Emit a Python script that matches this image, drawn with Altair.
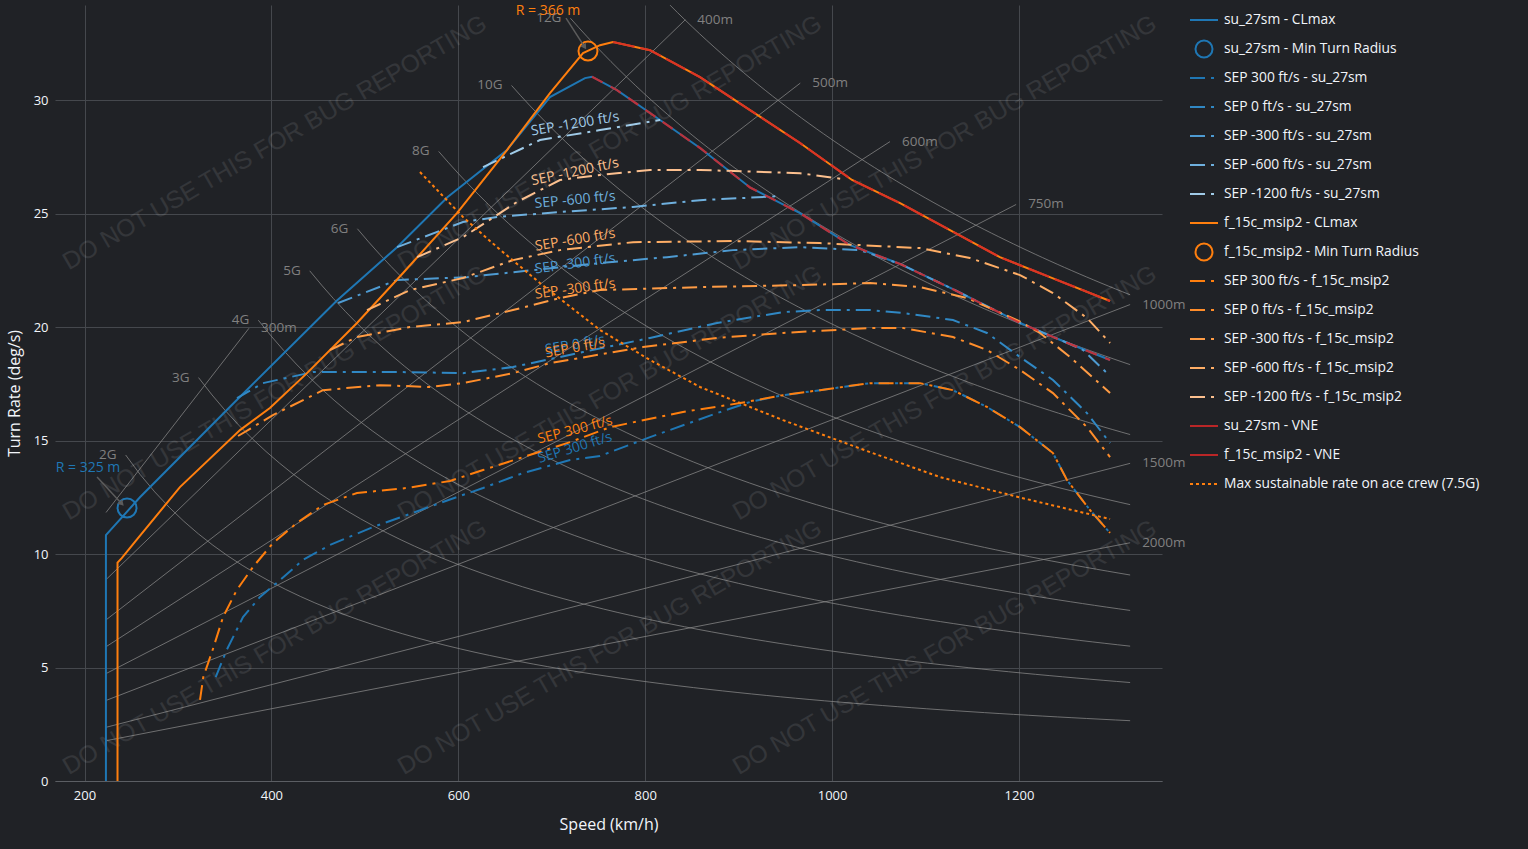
import math
import numpy as np
import pandas as pd
import altair as alt

# ---------------------------------------------------------------- styling
BG = "#202226"
GRID = "#45484d"
TXT = "#f2f5fa"
REF = "#8a8a8a"
REF_TXT = "#808080"
FONT = "Open Sans"

SU_BLUE = "#1f77b4"
FC_ORANGE = "#ff7f0e"
VNE_RED = "#d62728"

# ---------------------------------------------------------------- axes
X_TICKS = [200, 400, 600, 800, 1000, 1200]
Y_TICKS = [0, 5, 10, 15, 20, 25, 30]
X_DOMAIN = [168.4, 1353.1]
Y_DOMAIN = [0, 34.19]

# ---------------------------------------------------------------- reference grid (load factor / radius)
G_LOADS = [2, 3, 4, 5, 6, 8, 10, 12, 14]
G_START_KMH = [244, 322, 386, 441, 492, 579, 657, 720, 780]
GRID_END_KMH = 1319
RADII_M = [300, 400, 500, 600, 750, 1000, 1500, 2000]
R_START_KMH = 223
R_END_KMH = [376, 843, 966, 1062, 1197, 1319, 1319, 1319]

# ---------------------------------------------------------------- su_27sm
SU_CLMAX_V = [222.9, 222.9, 259.3, 363.2, 470.2, 534.5, 588.3, 652.1, 698.1, 735.6, 743.1]
SU_CLMAX_R = [0.0, 10.83, 12.50, 16.80, 21.17, 23.52, 25.72, 27.80, 30.13, 30.97, 31.03]
SU_VNE_V = [743.1, 769.8, 805.2, 858.7, 912.2, 965.7, 1019.3, 1072.8, 1129.4, 1201.2, 1249.5, 1297.5]
SU_VNE_R = [31.03, 30.44, 29.43, 27.89, 26.15, 25.02, 23.61, 22.78, 21.67, 20.18, 19.34, 18.55]
SU_MIN_RADIUS = [245.5, 12.03]

SU_S300_V = [340.4, 352.1, 369.6, 387.8, 409.2, 433.8, 462.7, 508.7, 545.1, 580.4, 626.5, 669.3, 719.6,
             751.7, 805.2, 877.0, 912.2, 947.5, 987.1, 1040.6, 1094.1, 1129.4, 1165.8, 1201.2, 1236.4,
             1251.4, 1276.0, 1297.5]
SU_S300_R = [4.58, 5.77, 7.22, 8.11, 8.85, 9.74, 10.40, 11.19, 11.72, 12.25, 12.91, 13.57, 14.14,
             14.32, 15.15, 16.21, 16.70, 17.00, 17.22, 17.53, 17.53, 17.22, 16.48, 15.59, 14.45,
             13.26, 11.94, 10.93]
SU_S0_V = [363.2, 391.0, 444.6, 534.5, 605.0, 658.5, 708.8, 733.5, 805.2, 877.0, 947.5, 987.1, 1040.6,
           1076.0, 1129.4, 1165.8, 1201.2, 1236.4, 1272.8, 1297.5]
SU_S0_R = [16.87, 17.53, 18.02, 18.02, 17.97, 18.24, 18.68, 18.90, 19.52, 20.18, 20.66, 20.75, 20.75,
           20.62, 20.31, 19.74, 18.68, 17.67, 16.21, 14.89]
SU_SM300_V = [471.4, 534.5, 609.4, 680.0, 751.7, 823.4, 893.9, 965.7, 1029.9, 1072.8, 1129.4, 1201.2,
              1249.5, 1268.6, 1294.3]
SU_SM300_R = [21.06, 22.07, 22.20, 22.51, 22.82, 23.08, 23.39, 23.52, 23.39, 22.78, 21.67, 20.18,
              19.34, 18.99, 17.97]
SU_SM600_V = [534.5, 605.0, 641.5, 708.8, 787.0, 858.7, 944.3]
SU_SM600_R = [23.52, 24.63, 24.85, 25.07, 25.29, 25.59, 25.77]
SU_SM1200_V = [626.5, 687.4, 751.7, 816.0]
SU_SM1200_R = [27.05, 28.24, 28.68, 29.12]

# ---------------------------------------------------------------- f_15c_msip2
FC_CLMAX_V = [235.3, 235.3, 239.8, 255.7, 302.1, 366.4, 398.4, 438.1, 491.6, 540.9, 598.6, 652.1,
              698.1, 733.5, 751.7, 765.6]
FC_CLMAX_R = [0.0, 9.62, 9.82, 10.62, 12.95, 15.46, 16.43, 17.97, 20.18, 22.38, 25.02, 27.80,
              30.31, 32.07, 32.42, 32.56]
FC_VNE_V = [765.6, 805.2, 858.7, 912.2, 965.7, 1021.4, 1072.8, 1126.2, 1179.6, 1233.1, 1297.5]
FC_VNE_R = [32.56, 32.20, 31.01, 29.56, 28.11, 26.48, 25.46, 24.27, 23.08, 22.20, 21.15]
FC_MIN_RADIUS = [738.8, 32.16]

FC_S300_V = [323.6, 327.1, 337.8, 348.2, 362.9, 380.3, 401.6, 427.4, 455.2, 491.6, 545.1, 591.1,
             626.5, 669.3, 719.6, 762.4, 840.4, 901.5, 947.5, 987.1, 1040.6, 1094.1, 1129.4, 1165.8,
             1201.2, 1236.4, 1251.4, 1276.0, 1297.5]
FC_S300_R = [3.57, 4.58, 5.86, 7.22, 8.41, 9.43, 10.48, 11.37, 12.16, 12.69, 12.91, 13.22,
             13.70, 14.27, 14.93, 15.59, 16.26, 16.65, 17.00, 17.22, 17.53, 17.53, 17.22, 16.48,
             15.59, 14.45, 13.26, 11.94, 10.93]
FC_S0_V = [364.3, 401.6, 455.2, 516.2, 569.8, 605.0, 658.5, 698.1, 797.7, 877.0, 947.5, 1040.6,
           1076.0, 1129.4, 1165.8, 1201.2, 1236.4, 1272.8, 1297.5]
FC_S0_R = [15.20, 16.12, 17.22, 17.44, 17.36, 17.53, 17.97, 18.41, 19.12, 19.52, 19.74, 19.96,
           19.96, 19.56, 18.99, 18.11, 17.09, 15.59, 14.27]
FC_SM300_V = [462.7, 491.6, 548.3, 605.0, 658.5, 708.8, 751.7, 858.7, 965.7, 1040.6, 1094.1, 1144.4,
              1198.0, 1222.5, 1254.7, 1297.5]
FC_SM300_R = [18.99, 19.56, 20.00, 20.22, 20.75, 21.28, 21.63, 21.76, 21.85, 21.94, 21.76, 21.28,
              20.31, 19.74, 18.68, 17.09]
FC_SM600_V = [502.3, 548.3, 605.0, 658.5, 708.8, 787.0, 893.9, 987.1, 1094.1, 1147.6, 1201.2, 1236.4,
              1272.8, 1297.5]
FC_SM600_R = [20.75, 21.63, 22.16, 22.95, 23.39, 23.74, 23.79, 23.70, 23.48, 23.04, 22.29, 21.50,
              20.40, 19.30]
FC_SM1200_V = [555.9, 605.0, 662.8, 708.8, 751.7, 805.2, 858.7, 965.7, 1011.7]
FC_SM1200_R = [23.08, 23.96, 25.51, 26.48, 26.70, 26.92, 26.92, 26.78, 26.52]

# ---------------------------------------------------------------- max sustainable 7.5G
MAX75_V = [559.0, 605.0, 641.5, 687.4, 751.7, 805.2, 858.7, 947.5, 1040.6, 1115.7, 1199.1, 1297.5]
MAX75_R = [26.83, 24.85, 23.52, 21.94, 19.87, 18.55, 17.36, 15.90, 14.49, 13.39, 12.51, 11.54]

# ---------------------------------------------------------------- SEP colours / labels
SEP_LEVELS = ["300", "0", "-300", "-600", "-1200"]
SU_SEP_COLORS = ["#1f77b4", "#3088c4", "#4e9bd2", "#6fb0de", "#a0cbe8"]
FC_SEP_COLORS = ["#ff7f0e", "#ff8d2a", "#ff9c45", "#ffae66", "#fcc08f"]

SU_LABEL_V = [725, 725, 725, 725, 725]
SU_LABEL_R = [14.67, 19.21, 22.78, 25.59, 28.94]
SU_LABEL_ANGLE = [343, 350, 352, 354.5, 350.5]
FC_LABEL_V = [725, 725, 725, 725, 725]
FC_LABEL_R = [15.46, 19.07, 21.67, 23.83, 26.83]
FC_LABEL_ANGLE = [345.5, 350, 352, 350.5, 348]

# min-radius annotations
ANN_TEXT = ["R = 325 m", "R = 366 m"]
ANN_V = [203.7, 696.0]
ANN_R = [13.79, 33.92]
ANN_COLOR = [SU_BLUE, FC_ORANGE]
ARROW_V0 = [213.4, 715.3]
ARROW_R0 = [13.39, 33.61]
ARROW_V1 = [239.1, 734.6]
ARROW_R1 = [12.25, 32.38]
ARROW_ANGLE = [137, 147]

# watermark
WM_TEXT = "DO NOT USE THIS FOR BUG REPORTING"
WM_V = [403.9, 762.4, 1120.9]
WM_R = [28.1, 17.07, 5.86]

# legend
LEGEND_ITEMS = [
    "su_27sm - CLmax", "su_27sm - Min Turn Radius",
    "SEP 300 ft/s - su_27sm", "SEP 0 ft/s - su_27sm", "SEP -300 ft/s - su_27sm",
    "SEP -600 ft/s - su_27sm", "SEP -1200 ft/s - su_27sm",
    "f_15c_msip2 - CLmax", "f_15c_msip2 - Min Turn Radius",
    "SEP 300 ft/s - f_15c_msip2", "SEP 0 ft/s - f_15c_msip2", "SEP -300 ft/s - f_15c_msip2",
    "SEP -600 ft/s - f_15c_msip2", "SEP -1200 ft/s - f_15c_msip2",
    "su_27sm - VNE", "f_15c_msip2 - VNE", "Max sustainable rate on ace crew (7.5G)",
]
LEGEND_KIND = (["solid", "circle"] + ["dashdot"] * 5 + ["solid", "circle"] + ["dashdot"] * 5
               + ["vne", "vne", "dot"])
LEGEND_COLORS = ([SU_BLUE, SU_BLUE] + SU_SEP_COLORS + [FC_ORANGE, FC_ORANGE] + FC_SEP_COLORS
                 + [VNE_RED, VNE_RED, FC_ORANGE])

DASHDOT = [15, 6, 3, 6]
DOT = [3, 3]

# ---------------------------------------------------------------- scales / encodings
XS = alt.Scale(domain=X_DOMAIN, nice=False, zero=False)
YS = alt.Scale(domain=Y_DOMAIN, nice=False, zero=False)
X_AXIS = alt.Axis(values=X_TICKS, title="Speed (km/h)", grid=True, gridColor=GRID, gridWidth=1,
                  ticks=False, domain=True, domainColor="#5b5e63", labelColor=TXT, labelFont=FONT,
                  labelFontSize=13, labelPadding=8, titleColor=TXT, titleFont=FONT,
                  titleFontSize=16, titleFontWeight="normal", titleY=43, titleBaseline="middle",
                  format="d")
Y_AXIS = alt.Axis(values=Y_TICKS, title="Turn Rate (deg/s)", grid=True, gridColor=GRID, gridWidth=1,
                  ticks=False, domain=False, labelColor=TXT, labelFont=FONT, labelFontSize=13,
                  labelPadding=7, titleColor=TXT, titleFont=FONT, titleFontSize=16,
                  titleFontWeight="normal", titleX=-41, titleY=388, titleAngle=270,
                  titleBaseline="middle", titleAlign="center", format="d")
X = alt.X("V:Q", scale=XS, axis=X_AXIS)
Y = alt.Y("R:Q", scale=YS, axis=Y_AXIS)


def sdf(v, r):
    return pd.DataFrame({"V": v, "R": r, "i": list(range(len(v)))})


def line(v, r, color, width=2.0, dash=None, opacity=1.0, clip=False):
    kw = dict(color=color, strokeWidth=width, opacity=opacity, clip=clip)
    if dash:
        kw["strokeDash"] = dash
    return alt.Chart(sdf(v, r)).mark_line(**kw).encode(x=X, y=Y, order="i:Q")


def circle(pt, color):
    return alt.Chart(sdf([pt[0]], [pt[1]])).mark_point(
        shape="circle", filled=False, size=361, strokeWidth=2, color=color, opacity=1
    ).encode(x=X, y=Y)


# ---------------------------------------------------------------- reference grid lines
g_rows, g_lab = [], []
for n, vs in zip(G_LOADS, G_START_KMH):
    k = 9.81 * math.sqrt(n * n - 1)
    for v in np.linspace(vs, GRID_END_KMH, 70):
        g_rows.append({"g": f"{n}G", "V": float(v), "R": math.degrees(k / (v / 3.6))})
    g_lab.append({"t": f"{n}G", "V": vs, "R": math.degrees(k / (vs / 3.6))})
r_rows, r_lab = [], []
for rad, ve in zip(RADII_M, R_END_KMH):
    for v in (R_START_KMH, ve):
        r_rows.append({"g": f"{rad}m", "V": v, "R": math.degrees(v / 3.6 / rad)})
    r_lab.append({"t": f"{rad}m", "V": ve, "R": math.degrees(ve / 3.6 / rad)})

grid_g = alt.Chart(pd.DataFrame(g_rows)).mark_line(
    color=REF, strokeWidth=1, opacity=0.75, clip=True).encode(x=X, y=Y, detail="g:N")
grid_r = alt.Chart(pd.DataFrame(r_rows)).mark_line(
    color=REF, strokeWidth=1, opacity=0.75, clip=True).encode(x=X, y=Y, detail="g:N")
grid_g_lab = alt.Chart(pd.DataFrame(g_lab)).mark_text(
    align="right", baseline="middle", dx=-9, font=FONT, fontSize=13.5, color=REF_TXT, clip=True
).encode(x=X, y=Y, text="t:N")
grid_r_lab = alt.Chart(pd.DataFrame(r_lab)).mark_text(
    align="left", baseline="middle", dx=12, font=FONT, fontSize=13.5, color=REF_TXT
).encode(x=X, y=Y, text="t:N")

# ---------------------------------------------------------------- watermark
wm_rows = [{"V": v, "R": r, "t": WM_TEXT} for r in WM_R for v in WM_V]
watermark = alt.Chart(pd.DataFrame(wm_rows)).mark_text(
    angle=330, font="Liberation Sans", fontSize=24.5, color="#ffffff", opacity=0.09,
    align="center", baseline="middle"
).encode(x=X, y=Y, text="t:N")

# ---------------------------------------------------------------- series
SU_SEPS = [(SU_S300_V, SU_S300_R), (SU_S0_V, SU_S0_R), (SU_SM300_V, SU_SM300_R),
           (SU_SM600_V, SU_SM600_R), (SU_SM1200_V, SU_SM1200_R)]
FC_SEPS = [(FC_S300_V, FC_S300_R), (FC_S0_V, FC_S0_R), (FC_SM300_V, FC_SM300_R),
           (FC_SM600_V, FC_SM600_R), (FC_SM1200_V, FC_SM1200_R)]

layers = [grid_g, grid_r, watermark, grid_g_lab, grid_r_lab]
layers.append(line(SU_CLMAX_V + SU_VNE_V[1:], SU_CLMAX_R + SU_VNE_R[1:], SU_BLUE))
layers.append(circle(SU_MIN_RADIUS, SU_BLUE))
for (v, r), c in zip(SU_SEPS, SU_SEP_COLORS):
    layers.append(line(v, r, c, dash=DASHDOT))
layers.append(line(FC_CLMAX_V + FC_VNE_V[1:], FC_CLMAX_R + FC_VNE_R[1:], FC_ORANGE))
layers.append(circle(FC_MIN_RADIUS, FC_ORANGE))
for (v, r), c in zip(FC_SEPS, FC_SEP_COLORS):
    layers.append(line(v, r, c, dash=DASHDOT))
layers.append(line(SU_VNE_V, SU_VNE_R, VNE_RED, width=2.2, dash=[12, 9], opacity=0.85))
layers.append(line(FC_VNE_V, FC_VNE_R, VNE_RED, width=2.2, dash=[22, 6], opacity=0.85))
layers.append(line(MAX75_V, MAX75_R, FC_ORANGE, dash=DOT))

# SEP labels
lab_rows = []
for i, lv in enumerate(SEP_LEVELS):
    lab_rows.append({"V": SU_LABEL_V[i], "R": SU_LABEL_R[i], "a": SU_LABEL_ANGLE[i],
                     "c": SU_SEP_COLORS[i], "t": f"SEP {lv} ft/s", "k": 0})
    lab_rows.append({"V": FC_LABEL_V[i], "R": FC_LABEL_R[i], "a": FC_LABEL_ANGLE[i],
                     "c": FC_SEP_COLORS[i], "t": f"SEP {lv} ft/s", "k": 1})
layers.append(alt.Chart(pd.DataFrame(lab_rows)).mark_text(
    font=FONT, fontSize=14, align="center", baseline="middle"
).encode(x=X, y=Y, text="t:N", color=alt.Color("c:N", scale=None),
         angle=alt.Angle("a:Q", scale=None), order="k:Q"))

# min-radius annotations with arrows
arrow_rows = []
for j in range(2):
    arrow_rows.append({"V": ARROW_V0[j], "R": ARROW_R0[j], "a": j})
    arrow_rows.append({"V": ARROW_V1[j], "R": ARROW_R1[j], "a": j})
layers.append(alt.Chart(pd.DataFrame(arrow_rows)).mark_line(
    color="#5c5c5c", strokeWidth=1.5).encode(x=X, y=Y, detail="a:N"))
layers.append(alt.Chart(pd.DataFrame({"V": ARROW_V1, "R": ARROW_R1, "a": ARROW_ANGLE})).mark_point(
    shape="triangle", filled=True, size=45, color="#5c5c5c", opacity=1
).encode(x=X, y=Y, angle=alt.Angle("a:Q", scale=None)))
layers.append(alt.Chart(pd.DataFrame({"V": ANN_V, "R": ANN_R, "t": ANN_TEXT, "c": ANN_COLOR})).mark_text(
    font=FONT, fontSize=14, align="center", baseline="middle"
).encode(x=X, y=Y, text="t:N", color=alt.Color("c:N", scale=None)))

main = alt.layer(*layers)

# ---------------------------------------------------------------- legend (own scales)
leg = pd.DataFrame({"item": LEGEND_ITEMS, "kind": LEGEND_KIND, "c": LEGEND_COLORS,
                    "x0": 0.0, "x1": 1.0, "xc": 0.5})
LXS = alt.Scale(domain=[0, 1], range=[1135, 1163])
LYS = alt.Scale(type="point", domain=LEGEND_ITEMS, range=[15, 479], padding=0)
LY = alt.Y("item:N", scale=LYS, axis=None)
LCOL = alt.Color("c:N", scale=None)


def leg_rule(kind, dash=None, opacity=1.0):
    kw = dict(strokeWidth=2, opacity=opacity)
    if dash:
        kw["strokeDash"] = dash
    return alt.Chart(leg[leg.kind == kind]).mark_rule(**kw).encode(
        x=alt.X("x0:Q", scale=LXS, axis=None), x2="x1:Q", y=LY, color=LCOL)


leg_layers = [
    leg_rule("solid"),
    leg_rule("vne", opacity=0.85),
    leg_rule("dashdot", DASHDOT),
    leg_rule("dot", DOT),
    alt.Chart(leg[leg.kind == "circle"]).mark_point(
        shape="circle", filled=False, size=289, strokeWidth=2, opacity=1
    ).encode(x=alt.X("xc:Q", scale=LXS, axis=None), y=LY, color=LCOL),
    alt.Chart(leg).mark_text(align="left", baseline="middle", dx=6, font=FONT, fontSize=13.8,
                             color=TXT).encode(
        x=alt.X("x1:Q", scale=LXS, axis=None), y=LY, text="item:N"),
]
legend = alt.layer(*leg_layers)

chart = alt.layer(main, legend).resolve_scale(x="independent", y="independent").properties(
    width=1107, height=776,
    autosize=alt.AutoSizeParams(type="none"),
    padding={"left": 55, "top": 5, "right": 366, "bottom": 68},
    background=BG,
).configure_view(stroke=None)

TEMPLATE_SRC = """<!DOCTYPE html>
<html>
<head>
  <meta charset="utf-8">
  <style>
    html, body { margin: 0; padding: 0; background: #202226; overflow: hidden; }
    #{{ output_div }}.vega-embed { width: 100%; display: flex; }
    #{{ output_div }}.vega-embed details,
    #{{ output_div }}.vega-embed details summary { position: relative; }
  </style>
  <script type="text/javascript" src="{{ base_url }}/vega@{{ vega_version }}"></script>
  <script type="text/javascript" src="{{ base_url }}/vega-lite@{{ vegalite_version }}"></script>
  <script type="text/javascript" src="{{ base_url }}/vega-embed@{{ vegaembed_version }}"></script>
</head>
<body>
  <div id="{{ output_div }}"></div>
  <script>
    (function(vegaEmbed) {
      var spec = {{ spec }};
      var embedOpt = {{ embed_options }};
      const el = document.getElementById('{{ output_div }}');
      vegaEmbed("#{{ output_div }}", spec, embedOpt).catch(function(err) {
        el.innerHTML = '<div style="color:red;">' + err.message + '</div>';
      });
    })(vegaEmbed);
  </script>
</body>
</html>"""

try:
    import jinja2
    chart.save("out.html", embed_options={"renderer": "svg", "actions": False},
               template=jinja2.Template(TEMPLATE_SRC))
except Exception:
    chart.save("out.html", embed_options={"renderer": "svg", "actions": False})
